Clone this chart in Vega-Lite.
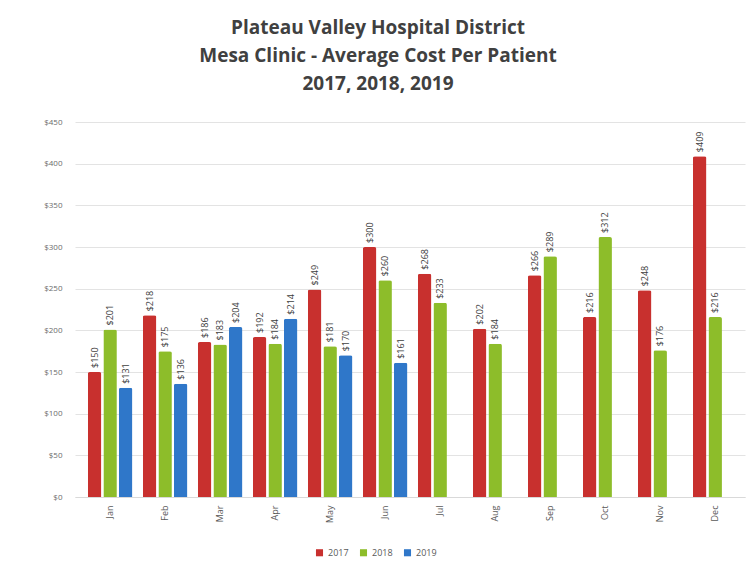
{
  "$schema": "https://vega.github.io/schema/vega-lite/v6.json",
  "width": 670,
  "height": 375,
  "autosize": {"type": "none"},
  "padding": {"left": 75, "right": 11, "top": 122, "bottom": 76},
  "background": "white",
  "title": {
    "text": ["Plateau Valley Hospital District", "Mesa Clinic - Average Cost Per Patient", "2017, 2018, 2019"],
    "font": "Open Sans",
    "fontSize": 19,
    "fontWeight": "bold",
    "color": "#404040",
    "lineHeight": 28,
    "anchor": "middle",
    "dx": -32,
    "offset": 24
  },
  "data": {
    "values": [
      {"month": "Jan", "year": "2017", "cost": 150},
      {"month": "Jan", "year": "2018", "cost": 201},
      {"month": "Jan", "year": "2019", "cost": 131},
      {"month": "Feb", "year": "2017", "cost": 218},
      {"month": "Feb", "year": "2018", "cost": 175},
      {"month": "Feb", "year": "2019", "cost": 136},
      {"month": "Mar", "year": "2017", "cost": 186},
      {"month": "Mar", "year": "2018", "cost": 183},
      {"month": "Mar", "year": "2019", "cost": 204},
      {"month": "Apr", "year": "2017", "cost": 192},
      {"month": "Apr", "year": "2018", "cost": 184},
      {"month": "Apr", "year": "2019", "cost": 214},
      {"month": "May", "year": "2017", "cost": 249},
      {"month": "May", "year": "2018", "cost": 181},
      {"month": "May", "year": "2019", "cost": 170},
      {"month": "Jun", "year": "2017", "cost": 300},
      {"month": "Jun", "year": "2018", "cost": 260},
      {"month": "Jun", "year": "2019", "cost": 161},
      {"month": "Jul", "year": "2017", "cost": 268},
      {"month": "Jul", "year": "2018", "cost": 233},
      {"month": "Aug", "year": "2017", "cost": 202},
      {"month": "Aug", "year": "2018", "cost": 184},
      {"month": "Sep", "year": "2017", "cost": 266},
      {"month": "Sep", "year": "2018", "cost": 289},
      {"month": "Oct", "year": "2017", "cost": 216},
      {"month": "Oct", "year": "2018", "cost": 312},
      {"month": "Nov", "year": "2017", "cost": 248},
      {"month": "Nov", "year": "2018", "cost": 176},
      {"month": "Dec", "year": "2017", "cost": 409},
      {"month": "Dec", "year": "2018", "cost": 216}
    ]
  },
  "encoding": {
    "x": {
      "field": "month",
      "type": "nominal",
      "sort": ["Jan", "Feb", "Mar", "Apr", "May", "Jun", "Jul", "Aug", "Sep", "Oct", "Nov", "Dec"],
      "scale": {"paddingInner": 0.19, "paddingOuter": 0.185, "align": 0.63},
      "axis": {
        "title": null,
        "labelAngle": -90,
        "labelColor": "#595959",
        "labelFontSize": 9,
        "labelFont": "Open Sans",
        "domainColor": "#d9d9d9",
        "ticks": false,
        "labelPadding": 8
      }
    },
    "xOffset": {
      "field": "year",
      "type": "nominal",
      "scale": {"domain": ["2017", "2018", "2019"], "paddingInner": 0.13, "paddingOuter": 0}
    },
    "y": {
      "field": "cost",
      "type": "quantitative",
      "scale": {"domain": [0, 450]},
      "axis": {
        "title": null,
        "values": [0, 50, 100, 150, 200, 250, 300, 350, 400, 450],
        "format": "$,.0f",
        "labelColor": "#6b6b6b",
        "labelFontSize": 8,
        "labelFont": "Open Sans",
        "domain": false,
        "ticks": false,
        "gridColor": "#e3e3e3",
        "labelPadding": 13
      }
    }
  },
  "layer": [
    {
      "mark": {"type": "bar", "cornerRadiusTopLeft": 2, "cornerRadiusTopRight": 2},
      "encoding": {
        "color": {
          "field": "year",
          "type": "nominal",
          "scale": {"domain": ["2017", "2018", "2019"], "range": ["#c8302e", "#8dbd2a", "#2f77c9"]},
          "legend": {
            "title": null,
            "orient": "none",
            "legendX": 240,
            "legendY": 426,
            "direction": "horizontal",
            "symbolType": "square",
            "symbolSize": 50,
            "labelFontSize": 9,
            "labelColor": "#595959",
            "labelFont": "Open Sans",
            "columnPadding": 10
          }
        }
      }
    },
    {
      "mark": {"type": "text", "angle": -90, "align": "left", "baseline": "middle", "dx": 4, "fontSize": 9, "font": "Open Sans", "color": "#404040"},
      "encoding": {
        "text": {"field": "cost", "type": "quantitative", "format": "$,.0f"}
      }
    }
  ],
  "config": {"view": {"stroke": null}}
}
